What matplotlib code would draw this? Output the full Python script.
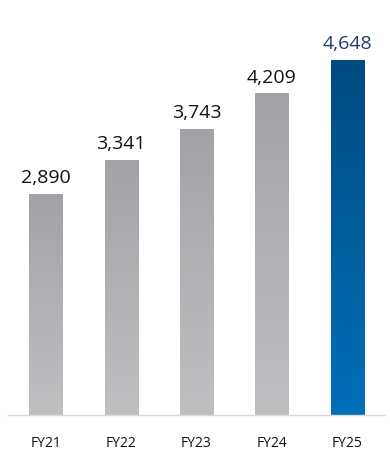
import matplotlib
matplotlib.use("Agg")
import matplotlib.pyplot as plt
import numpy as np
from matplotlib.colors import LinearSegmentedColormap

categories = ["FY21", "FY22", "FY23", "FY24", "FY25"]
values = [2890, 3341, 3743, 4209, 4648]
labels = ["2,890", "3,341", "3,743", "4,209", "4,648"]

W, H = 390, 463
fig = plt.figure(figsize=(W/100, H/100), dpi=100)
ax = fig.add_axes([8/W, (H-415)/H, 377/W, 415/H])
ax.set_xlim(-0.5, 4.5)
ax.set_ylim(0, 5432)

gray = LinearSegmentedColormap.from_list("g", ["#bfc0c2", "#a2a3a6"])
blue = LinearSegmentedColormap.from_list("b", ["#0070b9", "#004b80"])
bw = 0.44
grad = np.linspace(0, 1, 256).reshape(-1, 1)
for i, (c, v) in enumerate(zip(categories, values)):
    cmap = blue if i == len(values) - 1 else gray
    bars = ax.bar(i, v, width=bw, color="none", edgecolor="none")
    bar = bars[0]
    im = ax.imshow(grad, cmap=cmap, aspect="auto", origin="lower",
                   extent=[i - bw/2, i + bw/2, 0, v], zorder=2)
    im.set_clip_path(bar)
    col = "#1f3a6e" if i == len(values) - 1 else "#111111"
    ax.text(i, v + 90, labels[i], ha="center", va="bottom", fontsize=14,
            family="Open Sans", color=col)

ax.set_xlim(-0.5, 4.5)
ax.set_ylim(0, 5432)
for s in ["top", "right", "left"]:
    ax.spines[s].set_visible(False)
ax.spines["bottom"].set_color("#d9d9d9")
ax.spines["bottom"].set_linewidth(1)
ax.set_yticks([])
ax.set_xticks(range(len(categories)))
ax.set_xticklabels(categories, fontsize=10, family="Open Sans", color="#111111")
ax.tick_params(axis="x", length=0, pad=15)
fig.savefig("out.png", dpi=100)
